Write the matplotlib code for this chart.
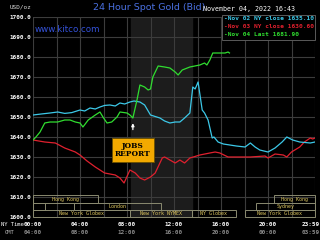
import matplotlib
matplotlib.use("Agg")
import matplotlib.pyplot as plt
from matplotlib.patches import Rectangle
import matplotlib.transforms as mtransforms

# hours since midnight (NY time) and bid prices
cyan_h = [0, 0.7, 1.45, 2.1, 2.7, 3.3, 4.0, 4.4, 4.85, 5.3, 5.7, 6.1, 6.55, 7.0, 7.4, 7.8, 8.25,
          8.6, 9.1, 9.5, 10.0, 10.8, 11.2, 11.65, 12.1, 12.5, 12.9, 13.35, 13.6, 13.8, 14.05, 14.4,
          14.6, 14.9, 15.25, 15.4, 15.75, 16.2, 16.75, 17.3, 18.05, 18.5, 18.9, 19.3, 20.0, 20.6,
          21.2, 21.6, 22.1, 22.7, 23.6, 24]
cyan_v = [1651, 1651.5, 1652, 1652.5, 1651.8, 1652.2, 1653.5, 1653, 1654.5, 1654, 1655, 1655.8,
          1656, 1655.5, 1657, 1656.5, 1657.5, 1658, 1657.5, 1656, 1651, 1649.5, 1648, 1647, 1647.5,
          1647.5, 1649.5, 1652, 1665, 1664, 1667.5, 1653.5, 1652, 1648.5, 1639.5, 1640, 1637.5,
          1636.5, 1636, 1635.5, 1635, 1637, 1635, 1633.5, 1632.5, 1634.5, 1637.5, 1640, 1638.5,
          1637.5, 1637, 1637.5]

red_h = [0, 1.0, 1.9, 2.7, 3.6, 4.0, 4.6, 5.3, 6.1, 7.0, 7.4, 7.75, 8.25, 8.7, 9.1, 9.5, 10.0,
         10.4, 11.0, 11.2, 11.65, 12.1, 12.5, 12.9, 13.35, 14.2, 15.05, 15.5, 15.9, 16.6, 18.5,
         19.75, 20.0, 20.6, 21.3, 21.6, 22.0, 22.7, 23.1, 23.6, 23.8, 24]
red_v = [1638.5, 1637.5, 1637, 1634.5, 1632.5, 1631, 1628, 1625, 1622, 1621, 1619.5, 1617,
         1623.5, 1622, 1619.5, 1618.5, 1620, 1622, 1629.5, 1630, 1628.5, 1627, 1628.5, 1627,
         1629.5, 1631, 1632, 1632.5, 1632, 1630, 1630, 1630.5, 1629.5, 1631.5, 1631, 1630,
         1632.5, 1635, 1637.5, 1639.5, 1639, 1639.5]

green_h = [0, 0.25, 0.6, 1.0, 1.45, 2.1, 2.7, 3.15, 3.6, 4.0, 4.25, 4.7, 5.3, 5.7, 5.95, 6.3,
           6.7, 7.15, 7.4, 8.0, 8.25, 8.5, 8.85, 9.1, 9.5, 9.8, 10.0, 10.2, 10.65, 11.2, 11.65,
           12.1, 12.35, 12.7, 13.35, 14.2, 14.6, 14.8, 15.05, 15.3, 15.75, 16.35, 16.6, 16.72]
green_v = [1638.5, 1640, 1642.5, 1647, 1647.5, 1647.5, 1648.5, 1648.5, 1647.5, 1647, 1645,
           1648.5, 1651, 1652.5, 1650, 1647, 1647.5, 1650, 1652.5, 1652, 1651, 1649.5, 1658.5,
           1666, 1665, 1663.5, 1664, 1670, 1675.5, 1675, 1674.5, 1672.5, 1671, 1673.5, 1675,
           1676, 1677, 1676, 1678.5, 1682, 1682, 1682, 1682.5, 1682]

legend_lines = ["-Nov 02 NY close 1635.10", "-Nov 03 NY close 1630.60", "-Nov 04 Last 1681.90"]
ny_labels = ["00:00", "04:00", "08:00", "12:00", "16:00", "20:00", "23:59"]
gmt_labels = ["04:00", "08:00", "12:00", "16:00", "20:00", "00:00", "03:59"]
label_hours = [0, 4, 8, 12, 16, 20, 23.6]

# sessions: (row, start, end, label)
sessions = [(0, 0, 5.5, "Hong Kong"), (0, 20.5, 24, "Hong Kong"),
            (1, 0, 1.0, ""), (1, 3.5, 10.9, "London"), (1, 19.0, 24, "Sydney"),
            (2, 0, 8.25, "New York Globex"), (2, 8.25, 13.5, "New York NYMEX"),
            (2, 13.5, 17.25, "NY Globex"), (2, 18.0, 24, "New York Globex")]
row_y = [(1607, 1611), (1603.5, 1607), (1600, 1603.5)]

mono = "DejaVu Sans Mono"
cyan = "#3cc8e8"
red = "#e0202e"
green = "#30dd30"

fig = plt.figure(figsize=(3.2, 2.4), dpi=100, facecolor="black")
ax = fig.add_axes([33 / 320, 1 - 217 / 240, 282 / 320, 200 / 240], facecolor="black")
ax.set_xlim(0, 24)
ax.set_ylim(1600, 1700)

ax.axvspan(8.33, 13.5, color="#1c1c1c", zorder=0)
for h in range(0, 25, 2):
    ax.axvline(h, color="#3c3c3c", lw=0.8, zorder=1)
for v in range(1610, 1701, 10):
    ax.axhline(v, color="#3c3c3c", lw=0.8, zorder=1)

ax.plot(red_h, red_v, color=red, lw=0.9, zorder=3)
ax.plot(cyan_h, cyan_v, color=cyan, lw=0.9, zorder=3)
ax.plot(green_h, green_v, color=green, lw=0.9, zorder=4)

for s in ax.spines.values():
    s.set_visible(False)
ax.set_xticks([])
ax.set_yticks(range(1600, 1701, 10))
ax.set_yticklabels([f"{v}.0" for v in range(1600, 1701, 10)], fontfamily=mono,
                   fontsize=4.3, color="white", fontweight="bold")
ax.tick_params(axis="y", length=0, pad=1.5)

# trading sessions
for row, a, b, lab in sessions:
    y0, y1 = row_y[row]
    ax.add_patch(Rectangle((a, y0), b - a, y1 - y0, fill=False, edgecolor="#8a8a70",
                           lw=0.7, zorder=5, clip_on=False))
    if lab:
        ax.text((a + b) / 2, (y0 + y1) / 2, lab, ha="center", va="center",
                fontfamily=mono, fontsize=3.6, color="#e0c860", zorder=6, clip_on=True)

# jobs report
ax.annotate("", xy=(8.5, 1648.3), xytext=(8.5, 1642.3),
            arrowprops=dict(arrowstyle="-|>", color="white", lw=0.9, mutation_scale=4), zorder=6)
ax.text(8.5, 1633.5, "JOBS\nREPORT", ha="center", va="center", fontfamily="DejaVu Serif",
        fontsize=5.4, fontweight="bold", color="black", linespacing=1.15, zorder=7,
        bbox=dict(boxstyle="square,pad=0.45", facecolor="#f2a900", edgecolor="#6a5000", lw=0.6))

# legend box
ax.add_patch(Rectangle((0.67, 0.885), 0.33, 0.125, transform=ax.transAxes, facecolor="black",
                       edgecolor="#5a5a5a", lw=0.7, zorder=8, clip_on=False))
for i, (txt, c) in enumerate(zip(legend_lines, [cyan, red, green])):
    fig.text(224 / 320, 1 - (19 + i * 7.5) / 240, txt, color=c, fontfamily=mono,
             fontsize=4.4, fontweight="bold", va="center", ha="left", zorder=9)

# x tick labels
trans = mtransforms.blended_transform_factory(ax.transData, fig.transFigure)
for h, a, b in zip(label_hours, ny_labels, gmt_labels):
    ax.text(h, 1 - 225 / 240, a, transform=trans, ha="center", va="center",
            fontfamily=mono, fontsize=4.3, color="white", fontweight="bold")
    ax.text(h, 1 - 233 / 240, b, transform=trans, ha="center", va="center",
            fontfamily=mono, fontsize=4.3, color="#8c8c8c", fontweight="bold")
fig.text(1 / 320, 1 - 225 / 240, "NY Time", color="white", fontfamily=mono, fontsize=4,
         va="center", ha="left")
fig.text(5 / 320, 1 - 233 / 240, "GMT", color="#bbbbbb", fontfamily=mono, fontsize=4,
         va="center", ha="left")

fig.text(10 / 320, 1 - 7 / 240, "USD/oz", color="#dddddd", fontfamily=mono, fontsize=4.3,
         va="center", ha="left")
fig.text(149 / 320, 1 - 8 / 240, "24 Hour Spot Gold (Bid)", color="#4a70e0", fontsize=6.8,
         va="center", ha="center")
fig.text(35 / 320, 1 - 29 / 240, "www.kitco.com", color="#3452d8", fontsize=6.3,
         va="center", ha="left", zorder=9)
fig.text(203 / 320, 1 - 9.5 / 240, "November 04, 2022 16:43", color="white", fontfamily=mono,
         fontsize=4.8, va="center", ha="left")

fig.savefig("out.png", dpi=100, facecolor="black")
